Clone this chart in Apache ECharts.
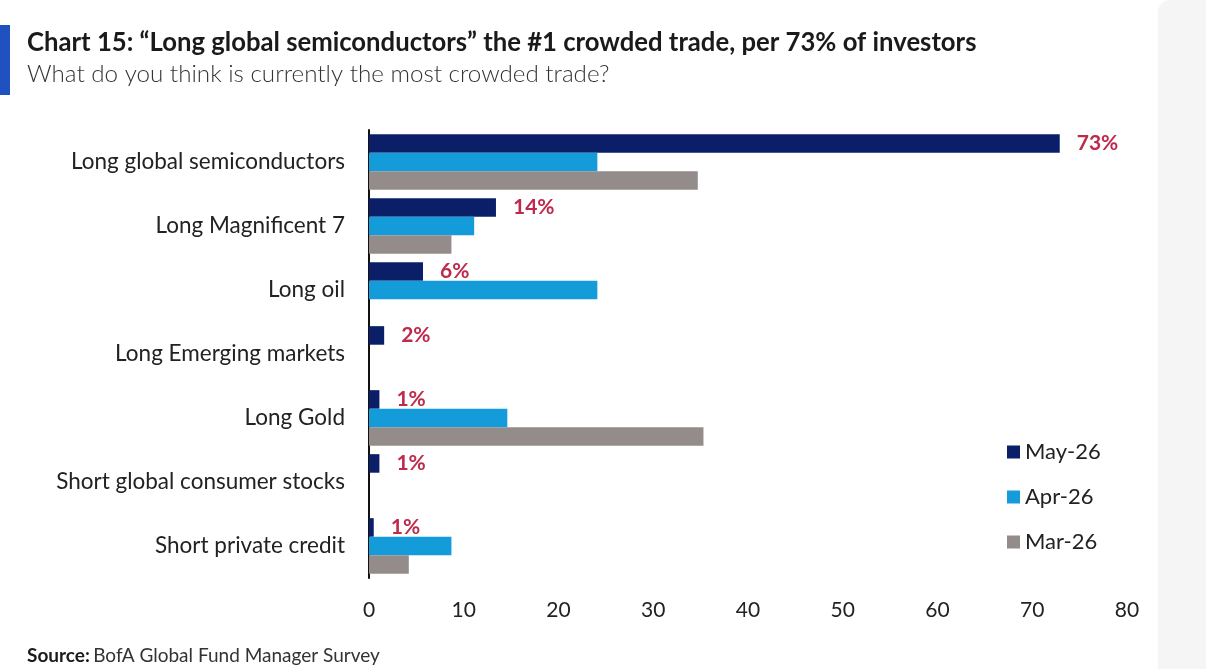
<!DOCTYPE html>
<html>
<head>
<meta charset="utf-8">
<script src="https://cdn.jsdelivr.net/npm/echarts@6/dist/echarts.min.js"></script>
<style>
  html, body { margin: 0; padding: 0; background: #fff; }
  #chart { width: 1206px; height: 669px; }
</style>
</head>
<body>
<div id="chart"></div>
<script>
// categories top to bottom
var trades = ['Long global semiconductors', 'Long Magnificent 7', 'Long oil', 'Long Emerging markets', 'Long Gold', 'Short global consumer stocks', 'Short private credit']
var may26 = [72.9, 13.4, 5.7, 1.6, 1.1, 1.1, 0.5]
var apr26 = [24.1, 11.1, 24.1, null, 14.6, null, 8.7]
var mar26 = [34.7, 8.7, null, null, 35.3, null, 4.2]
var mayLabels = ['73%', '14%', '6%', '2%', '1%', '1%', '1%']
var xTicks = [0, 10, 20, 30, 40, 50, 60, 70, 80]

var myChart = echarts.init(document.getElementById('chart'))
var font = 'Lato, "Open Sans", sans-serif'

var option = {
  backgroundColor: '#fff',
  animation: false,
  textStyle: { fontFamily: font },
  graphic: [
    { type: 'rect', shape: { x: 1158, y: 0, width: 48, height: 669, r: [12, 0, 0, 0] }, style: { fill: '#f5f5f5' }, silent: true },
    { type: 'rect', shape: { x: 0, y: 25, width: 10, height: 70 }, style: { fill: '#1f52c0' } },
    {
      type: 'text', left: 27, top: 30,
      style: { text: 'Chart 15: \u201cLong global semiconductors\u201d the #1 crowded trade, per 73% of investors', fill: '#1a1a1a', font: 'bold 25.7px ' + font }
    },
    {
      type: 'text', left: 27, top: 62,
      style: { text: 'What do you think is currently the most crowded trade?', fill: '#333', font: '300 24.2px ' + font }
    },
    {
      type: 'text', left: 27, top: 646,
      style: {
        text: '{b|Source:} {r|BofA Global Fund Manager Survey}',
        rich: {
          b: { fontWeight: 'bold', fontSize: 19, fontFamily: font, fill: '#1a1a1a' },
          r: { fontSize: 19, fontFamily: font, fill: '#333' }
        }
      }
    }
  ],
  legend: {
    orient: 'vertical',
    left: 1002,
    top: 436,
    itemWidth: 13,
    itemHeight: 13,
    itemGap: 23,
    icon: 'rect',
    textStyle: { fontSize: 22, color: '#222', fontFamily: font },
    data: ['May-26', 'Apr-26', 'Mar-26']
  },
  grid: { left: 369, right: 79, top: 130, bottom: 91 },
  xAxis: {
    type: 'value',
    min: xTicks[0],
    max: xTicks[xTicks.length - 1],
    interval: 10,
    axisLine: { show: false },
    axisTick: { show: false },
    splitLine: { show: false },
    axisLabel: { fontSize: 21, color: '#222', margin: 22, fontFamily: font }
  },
  yAxis: {
    type: 'category',
    inverse: true,
    data: trades,
    axisLine: { show: true, lineStyle: { color: '#111', width: 2 } },
    axisTick: { show: false },
    axisLabel: { fontSize: 22.5, color: '#222', margin: 24, fontFamily: font }
  },
  series: [
    {
      name: 'May-26', type: 'bar', data: may26,
      barGap: '0%', barCategoryGap: '13%',
      itemStyle: { color: '#0b1f69' },
      label: {
        show: true, position: 'right', distance: 17,
        formatter: function (p) { return mayLabels[p.dataIndex] },
        color: '#be2a4b', fontWeight: 'bold', fontSize: 21, fontFamily: font
      }
    },
    { name: 'Apr-26', type: 'bar', data: apr26, barGap: '0%', barCategoryGap: '13%', itemStyle: { color: '#149bd9' } },
    { name: 'Mar-26', type: 'bar', data: mar26, barGap: '0%', barCategoryGap: '13%', itemStyle: { color: '#948b8b' } }
  ]
}
myChart.setOption(option)
window.addEventListener('resize', function () {
  myChart.resize()
})
</script>
</body>
</html>
